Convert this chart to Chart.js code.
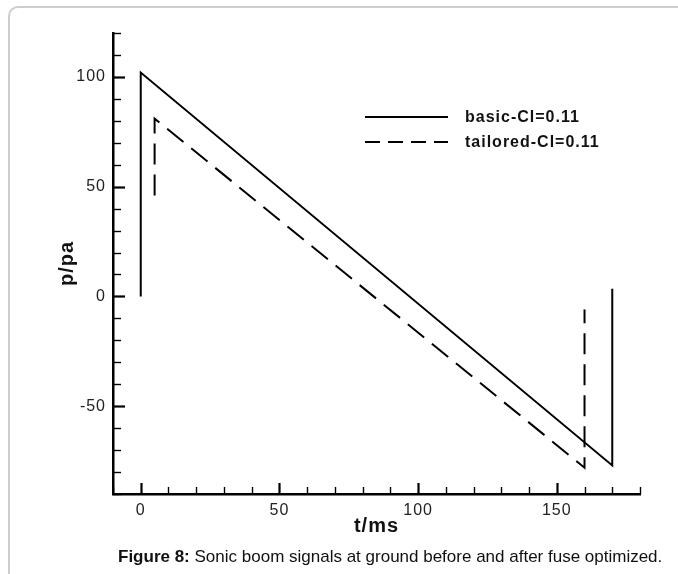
<!DOCTYPE html>
<html>
<head>
<meta charset="utf-8">
<script src="https://cdn.jsdelivr.net/npm/chart.js@4"></script>
<style>
    html, body {
        margin: 0;
        padding: 0;
        background: #ffffff;
        overflow: hidden;
    }
    .frame {
        position: absolute;
        left: 8px;
        top: 6px;
        width: 700px;
        height: 600px;
        border: 2px solid #cdcdcd;
        border-radius: 10px;
        box-sizing: border-box;
    }
    .chart-box {
        position: absolute;
        left: 0;
        top: 0;
        width: 678px;
        height: 574px;
    }
    .caption {
        position: absolute;
        left: 118px;
        top: 547px;
        font-family: "Liberation Sans", Arial, sans-serif;
        font-size: 17px;
        color: #111;
        white-space: nowrap;
    }
</style>
</head>
<body>
<div class="frame"></div>
<div class="chart-box"><canvas id="boomChart" width="678" height="574"></canvas></div>
<div class="caption"><b>Figure 8:</b> Sonic boom signals at ground before and after fuse optimized.</div>

<script>
// Ground signatures, time in ms and overpressure in pa
const basicT = [0, 0, 170, 170];
const basicP = [0, 102, -77, 3.5];
const tailoredT = [5, 5, 160, 160];
const tailoredP = [46, 81, -78, -6];

const seriesNames = ['basic-Cl=0.11', 'tailored-Cl=0.11'];

const xMajor = [0, 50, 100, 150];
const yMajor = [-50, 0, 50, 100];

const FONT = '"Liberation Sans", Arial, sans-serif';

function toPoints(xs, ys) {
    return xs.map((x, i) => ({ x: x, y: ys[i] }));
}

// Slightly spaced lettering for all chart text
const spacedText = {
    id: 'spacedText',
    beforeDraw(chart) {
        chart.ctx.letterSpacing = '1px';
    }
};

// Inward tick marks, long ones at the labelled values
const insideTicks = {
    id: 'insideTicks',
    afterDraw(chart) {
        const ctx = chart.ctx;
        const xs = chart.scales.x;
        const ys = chart.scales.y;
        const area = chart.chartArea;
        ctx.save();
        ctx.strokeStyle = '#000';
        xs.ticks.forEach(t => {
            const major = xMajor.includes(t.value);
            const px = Math.round(xs.getPixelForValue(t.value)) + 0.5;
            ctx.lineWidth = major ? 2.2 : 1.4;
            ctx.beginPath();
            ctx.moveTo(px, area.bottom);
            ctx.lineTo(px, area.bottom - (major ? 11 : 7));
            ctx.stroke();
        });
        ys.ticks.forEach(t => {
            const major = yMajor.includes(t.value);
            const py = Math.round(ys.getPixelForValue(t.value)) + 0.5;
            ctx.lineWidth = major ? 2.2 : 1.4;
            ctx.beginPath();
            ctx.moveTo(area.left, py);
            ctx.lineTo(area.left + (major ? 12 : 8), py);
            ctx.stroke();
        });
        ctx.restore();
    }
};

// Line-sample legend in the upper right of the plot
const lineLegend = {
    id: 'lineLegend',
    afterDraw(chart) {
        const ctx = chart.ctx;
        const x0 = 365, x1 = 448, textX = 465;
        const rows = [117, 142];
        ctx.save();
        chart.data.datasets.forEach((ds, i) => {
            ctx.strokeStyle = '#000';
            ctx.lineWidth = 2;
            ctx.setLineDash(i === 1 ? [15, 8] : []);
            ctx.beginPath();
            ctx.moveTo(x0, rows[i]);
            ctx.lineTo(x1, rows[i]);
            ctx.stroke();
            ctx.setLineDash([]);
            ctx.fillStyle = '#111';
            ctx.font = 'bold 16px ' + FONT;
            ctx.letterSpacing = '1px';
            ctx.textBaseline = 'middle';
            ctx.fillText(ds.label, textX, rows[i] + 1);
        });
        ctx.restore();
    }
};

const ctx = document.getElementById('boomChart').getContext('2d');

new Chart(ctx, {
    type: 'scatter',
    data: {
        datasets: [{
            label: seriesNames[0],
            data: toPoints(basicT, basicP),
            showLine: true,
            borderColor: '#000',
            borderWidth: 2,
            pointRadius: 0,
            tension: 0
        }, {
            label: seriesNames[1],
            data: toPoints(tailoredT, tailoredP),
            showLine: true,
            borderColor: '#000',
            borderWidth: 2,
            borderDash: [21, 10],
            pointRadius: 0,
            tension: 0
        }]
    },
    options: {
        responsive: false,
        animation: false,
        layout: {
            padding: { left: 55, top: 33, right: 38, bottom: 36 }
        },
        plugins: {
            legend: { display: false },
            tooltip: { enabled: false }
        },
        scales: {
            x: {
                type: 'linear',
                min: -10,
                max: 180,
                afterFit: function(scale) { scale.height = 44; },
                border: { display: true, color: '#000', width: 2.5 },
                grid: { display: false, drawTicks: false },
                ticks: {
                    stepSize: 10,
                    padding: 7,
                    color: '#222',
                    font: { family: FONT, size: 16 },
                    maxRotation: 0,
                    autoSkip: false,
                    callback: v => xMajor.includes(v) ? v : ''
                },
                title: {
                    display: true,
                    text: 't/ms',
                    color: '#111',
                    padding: 0,
                    font: { family: FONT, size: 20, weight: 'bold' }
                }
            },
            y: {
                type: 'linear',
                min: -90,
                max: 120,
                afterFit: function(scale) { scale.width = 58; },
                border: { display: true, color: '#000', width: 2.5 },
                grid: { display: false, drawTicks: false },
                ticks: {
                    stepSize: 10,
                    padding: 7,
                    color: '#222',
                    font: { family: FONT, size: 16 },
                    autoSkip: false,
                    callback: v => yMajor.includes(v) ? v : ''
                },
                title: {
                    display: true,
                    text: 'p/pa',
                    color: '#111',
                    padding: 0,
                    font: { family: FONT, size: 20, weight: 'bold' }
                }
            }
        }
    },
    plugins: [spacedText, insideTicks, lineLegend]
});
</script>
</body>
</html>
